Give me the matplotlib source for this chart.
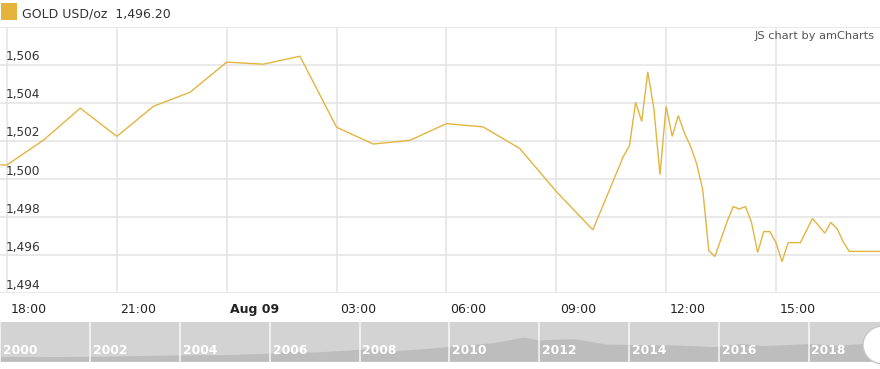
import numpy as np
import pandas as pd
import matplotlib
matplotlib.use("Agg")
import matplotlib.pyplot as plt
import matplotlib.dates as mdates
from matplotlib.patches import Rectangle, Ellipse
from matplotlib.transforms import blended_transform_factory, offset_copy

# === Data ===
times = [
    "08 17:50", "08 18:00", "08 19:00", "08 20:00", "08 21:00", "08 22:00",
    "08 23:00", "09 00:00", "09 01:00", "09 02:00", "09 03:00", "09 04:00",
    "09 05:00", "09 06:00", "09 07:00", "09 08:00", "09 09:00", "09 10:00",
    "09 10:50", "09 11:00", "09 11:10", "09 11:20", "09 11:30", "09 11:40",
    "09 11:50", "09 12:00", "09 12:10", "09 12:20", "09 12:30", "09 12:40",
    "09 12:50", "09 13:00", "09 13:10", "09 13:20", "09 13:40", "09 13:50",
    "09 14:00", "09 14:10", "09 14:20", "09 14:30", "09 14:40", "09 14:50",
    "09 15:00", "09 15:10", "09 15:20", "09 15:40", "09 16:00", "09 16:20",
    "09 16:30", "09 16:40", "09 16:50", "09 17:00", "09 17:50",
]
prices = [
    1500.74, 1500.74, 1502.05, 1503.72, 1502.24, 1503.82,
    1504.56, 1506.14, 1506.03, 1506.45, 1502.72, 1501.84,
    1502.03, 1502.91, 1502.74, 1501.61, 1499.35, 1497.33,
    1501.19, 1501.75, 1504.03, 1503.03, 1505.63, 1503.68,
    1500.23, 1503.82, 1502.24, 1503.33, 1502.42, 1501.72,
    1500.81, 1499.44, 1496.24, 1495.93, 1497.77, 1498.56,
    1498.42, 1498.56, 1497.72, 1496.14, 1497.24, 1497.24,
    1496.66, 1495.66, 1496.66, 1496.66, 1497.93, 1497.16,
    1497.72, 1497.40, 1496.72, 1496.20, 1496.20,
]
y_ticks = [1494, 1496, 1498, 1500, 1502, 1504, 1506]
x_tick_labels = ["18:00", "21:00", "Aug 09", "03:00", "06:00", "09:00", "12:00", "15:00"]

# navigator (long term history)
nav_years = [2000.0, 2001.0, 2001.7, 2002.5, 2003.0, 2004.0, 2005.0, 2006.0, 2006.4,
             2007.0, 2008.0, 2008.2, 2008.8, 2009.5, 2010.0, 2011.0, 2011.65, 2012.0,
             2012.8, 2013.5, 2014.0, 2015.0, 2015.9, 2016.5, 2017.0, 2018.0, 2018.7,
             2019.6]
nav_prices = [285, 268, 290, 315, 350, 410, 430, 550, 700,
              640, 850, 950, 760, 930, 1100, 1400, 1850, 1620,
              1720, 1280, 1250, 1220, 1080, 1330, 1160, 1320, 1200,
              1430]
nav_labels = list(range(2000, 2020, 2))

dt = pd.to_datetime(["2019-08-" + t for t in times])

# === Figure ===
W, H = 880, 369
fig = plt.figure(figsize=(W / 100, H / 100), dpi=100)
fig.patch.set_facecolor("white")

top_px, bot_px = 26.7, 293.3
ax = fig.add_axes([0, 1 - bot_px / H, 1, (bot_px - top_px) / H])
ax.plot(dt, prices, color="#e2b540", lw=1.0, solid_joinstyle="miter")
ax.set_ylim(1494, 1508)
ax.set_xlim(pd.Timestamp("2019-08-08 17:48:30"), pd.Timestamp("2019-08-09 17:50:30"))
ax.set_yticks(y_ticks + [1508])
ax.xaxis.set_major_locator(mdates.HourLocator(byhour=range(0, 24, 3)))
ax.grid(True, color="#e3e3e3", lw=1.1)
ax.set_axisbelow(True)
ax.tick_params(length=0, labelbottom=False, labelleft=False)
for s in ax.spines.values():
    s.set_visible(False)

# y labels sit just above their gridlines
ylab_tr = offset_copy(blended_transform_factory(ax.transAxes, ax.transData), fig=fig, x=6 * 0.72, y=1.5 * 0.72, units="points")
for v in y_ticks:
    ax.text(0, v, f"{v:,}", transform=ylab_tr, ha="left", va="bottom",
            fontsize=8.7, color="#333333")

# x labels left aligned next to gridlines
tick_pos = pd.date_range("2019-08-08 18:00", periods=len(x_tick_labels), freq="3h")
xlab_tr = offset_copy(blended_transform_factory(ax.transData, ax.transAxes), fig=fig, x=3.5 * 0.72, y=-16 * 0.72, units="points")
for p, lab in zip(tick_pos, x_tick_labels):
    ax.text(mdates.date2num(p), 0, lab, transform=xlab_tr, ha="left", va="center",
            fontsize=9, color="#222222", fontweight="bold" if lab.startswith("Aug") else "normal")

# === Header ===
fig.add_artist(Rectangle((1 / W, 1 - 20 / H), 16 / W, 17 / H, transform=fig.transFigure,
                         facecolor="#e5b33a", edgecolor="none"))
fig.text(22 / W, 1 - 14 / H, "GOLD USD/oz  1,496.20", ha="left", va="center",
         fontsize=9, color="#333333")
fig.text(875 / W, 1 - 36 / H, "JS chart by amCharts", ha="right", va="center",
         fontsize=8.2, color="#555555")

# === Navigator ===
nav_top, nav_bot = 321.7, 361.7
nav = fig.add_axes([0, 1 - nav_bot / H, 1, (nav_bot - nav_top) / H])
nav.set_facecolor("#d3d3d3")
nav.fill_between(nav_years, nav_prices, -100, color="#bdbdbd", lw=0)
nav.set_xlim(2000 - 0.4 / 44.9, 2000 + 879.6 / 44.9)
nav.set_ylim(-100, 3130)
for yr in nav_labels:
    nav.axvline(yr, color="white", lw=1.3, alpha=0.75)
    nav.annotate(str(yr), (yr, 0), xycoords=("data", "axes fraction"),
                 xytext=(2, 3.5), textcoords="offset points", ha="left", va="bottom",
                 fontsize=8.8, fontweight="bold", color="white")
nav.set_xticks([])
nav.set_yticks([])
for s in nav.spines.values():
    s.set_visible(False)

# scrollbar grip
fig.add_artist(Ellipse((883 / W, 1 - 345 / H), 40 / W, 38 / H, transform=fig.transFigure,
                       facecolor="white", edgecolor="#c8c8c8", lw=1))

fig.savefig("out.png", dpi=100)
